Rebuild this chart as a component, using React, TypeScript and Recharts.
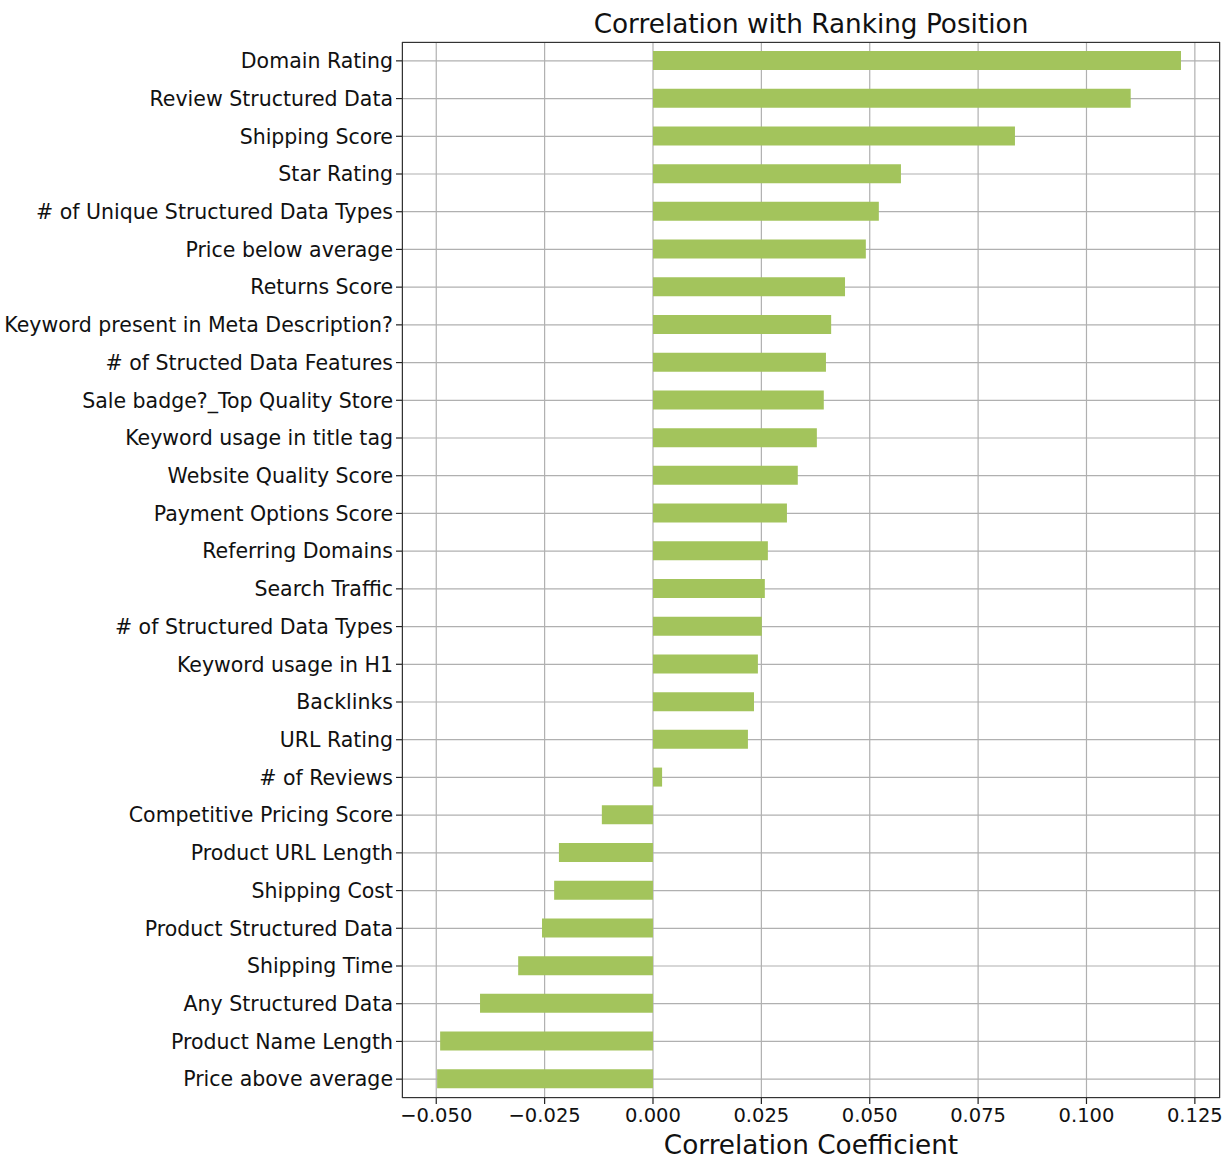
import { Bar, BarChart, CartesianGrid, XAxis, YAxis } from "recharts";

const features = [
  "Domain Rating",
  "Review Structured Data",
  "Shipping Score",
  "Star Rating",
  "# of Unique Structured Data Types",
  "Price below average",
  "Returns Score",
  "Keyword present in Meta Description?",
  "# of Structed Data Features",
  "Sale badge?_Top Quality Store",
  "Keyword usage in title tag",
  "Website Quality Score",
  "Payment Options Score",
  "Referring Domains",
  "Search Traffic",
  "# of Structured Data Types",
  "Keyword usage in H1",
  "Backlinks",
  "URL Rating",
  "# of Reviews",
  "Competitive Pricing Score",
  "Product URL Length",
  "Shipping Cost",
  "Product Structured Data",
  "Shipping Time",
  "Any Structured Data",
  "Product Name Length",
  "Price above average",
];

const correlations = [
  0.1218, 0.1102, 0.0835, 0.0572, 0.0521, 0.0491, 0.0443, 0.0411, 0.0399,
  0.0394, 0.0378, 0.0334, 0.0309, 0.0265, 0.0258, 0.0251, 0.0242, 0.0233,
  0.0219, 0.0021, -0.0118, -0.0217, -0.0228, -0.0256, -0.0311, -0.0399,
  -0.0491, -0.0498,
];

const xTicks = [-0.05, -0.025, 0, 0.025, 0.05, 0.075, 0.1, 0.125];

const data = features.map((name, i) => ({ name, value: correlations[i] }));

const W = 1229;
const H = 1161;
const plot = { left: 402, top: 42, right: 1220, bottom: 1098 };
const xAxisHeight = 40;
const font = "'DejaVu Sans', sans-serif";

const fmt = (v: number) => {
  const s = Math.abs(v).toFixed(3);
  return v < 0 ? `\u2212${s}` : s;
};

export default function App() {
  return (
    <div style={{ position: "absolute", left: 0, top: 0, width: W, height: H, background: "#fff", fontFamily: font }}>
      <div
        style={{
          position: "absolute",
          left: 0,
          top: 8,
          width: plot.left + plot.right,
          textAlign: "center",
          fontSize: 26.3,
          color: "#111",
          lineHeight: "32px",
        }}
      >
        Correlation with Ranking Position
      </div>
      <BarChart
        width={W}
        height={H}
        data={data}
        layout="vertical"
        margin={{ top: plot.top, right: W - plot.right, bottom: H - plot.bottom - xAxisHeight, left: 0 }}
      >
        <CartesianGrid stroke="#b0b0b0" strokeWidth={1.2} />
        <XAxis
          type="number"
          domain={[-0.0579, 0.1308]}
          ticks={xTicks}
          tickFormatter={fmt}
          allowDataOverflow
          height={xAxisHeight}
          axisLine={false}
          tickSize={6}
          tickLine={{ stroke: "#222", strokeWidth: 1.2 }}
          tick={{ fill: "#111", fontSize: 19.5, fontFamily: font }}
          tickMargin={4}
        />
        <YAxis
          type="category"
          dataKey="name"
          width={plot.left}
          interval={0}
          axisLine={false}
          tickSize={6}
          tickLine={{ stroke: "#222", strokeWidth: 1.2 }}
          tick={{ fill: "#111", fontSize: 20.5, fontFamily: font }}
          tickMargin={3}
        />
        <Bar dataKey="value" fill="#a3c45c" barSize={19} isAnimationActive={false} />
      </BarChart>
      <div
        style={{
          position: "absolute",
          left: plot.left,
          top: plot.top,
          width: plot.right - plot.left,
          height: plot.bottom - plot.top,
          border: "1.5px solid #333",
          boxSizing: "border-box",
          pointerEvents: "none",
        }}
      />
      <div
        style={{
          position: "absolute",
          left: 0,
          top: 1129,
          width: plot.left + plot.right,
          textAlign: "center",
          fontSize: 26.3,
          color: "#111",
          lineHeight: "32px",
        }}
      >
        Correlation Coefficient
      </div>
    </div>
  );
}
